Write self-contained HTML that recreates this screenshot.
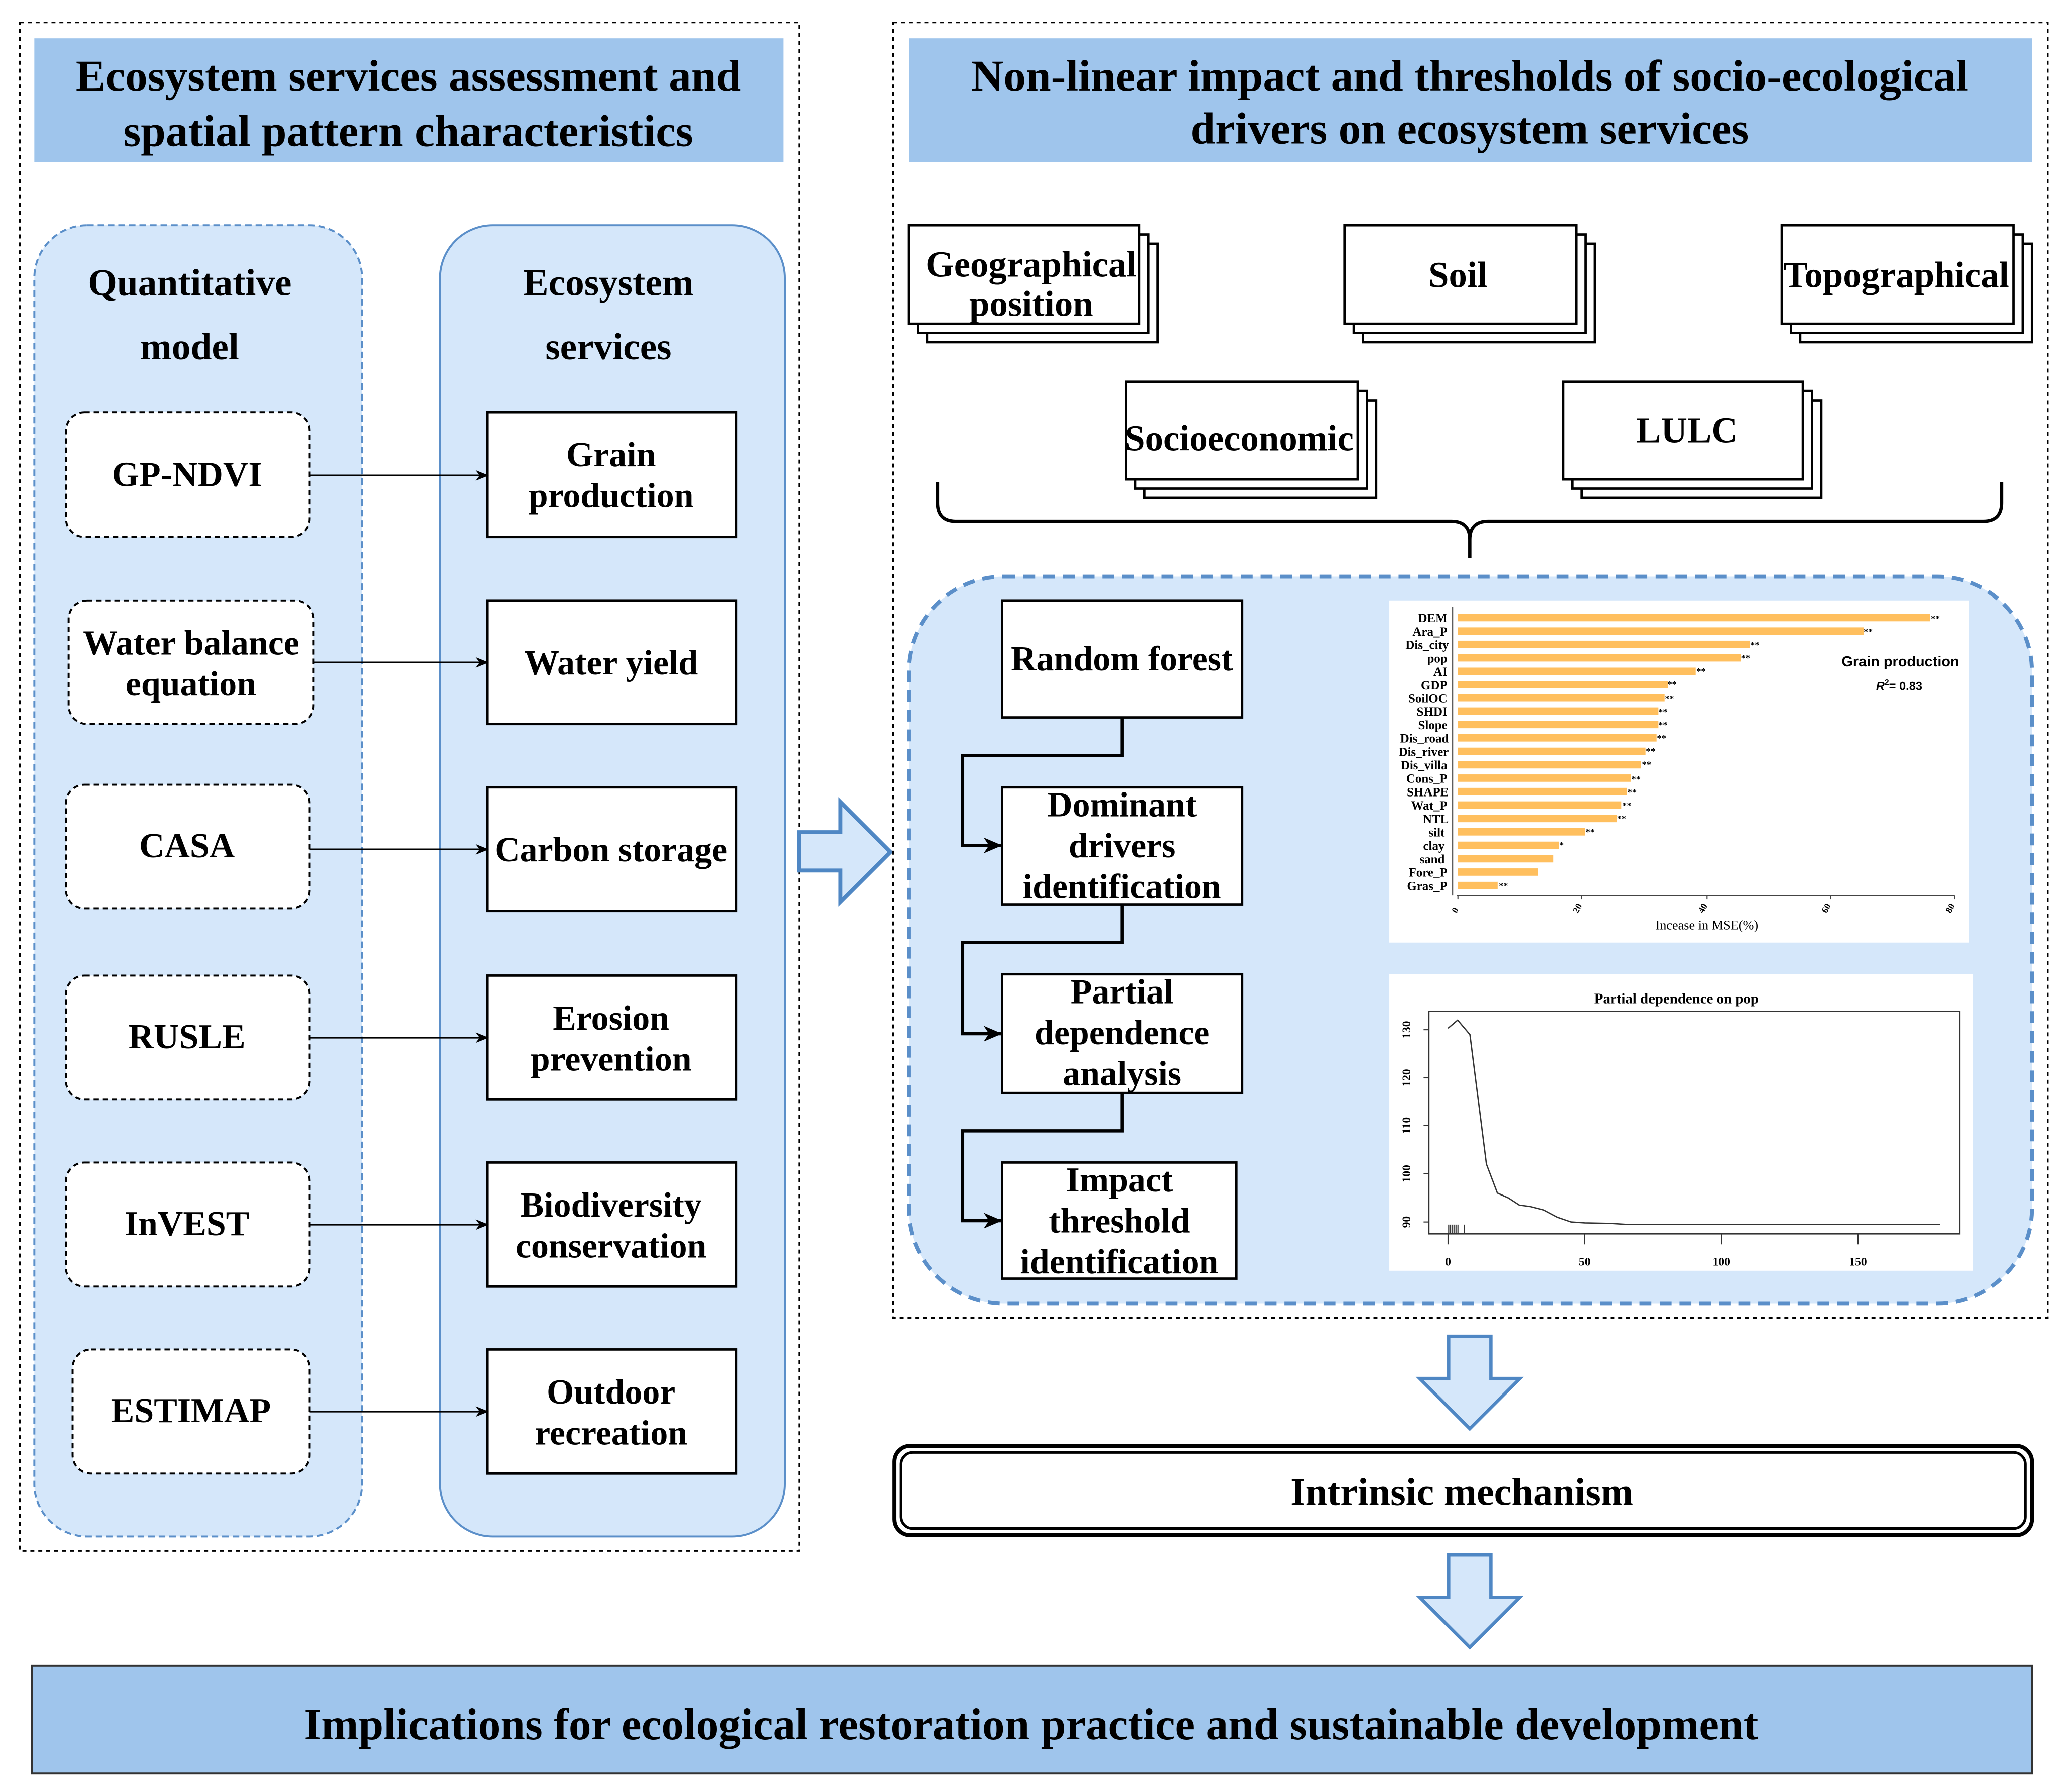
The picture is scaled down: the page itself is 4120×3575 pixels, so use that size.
<!DOCTYPE html>
<html><head><meta charset="utf-8"><style>
html,body{margin:0;padding:0;background:#fff;}
svg{display:block;}
text{font-family:"Liberation Serif",serif;font-weight:bold;fill:#000;}
</style></head><body>
<svg width="4120" height="3575" viewBox="0 0 1568 1361" preserveAspectRatio="none" xmlns="http://www.w3.org/2000/svg">
<defs>
<marker id="ah" markerWidth="10" markerHeight="10" refX="9" refY="5" orient="auto" markerUnits="userSpaceOnUse">
<path d="M0,1 L10,5 L0,9 L3,5 Z" fill="#000"/></marker>
<marker id="ah2" markerWidth="14" markerHeight="14" refX="13" refY="7" orient="auto" markerUnits="userSpaceOnUse">
<path d="M0,1 L14,7 L0,13 L4,7 Z" fill="#000"/></marker>
</defs>
<rect width="1568" height="1361" fill="#fff"/>

<!-- LEFT FRAME -->
<rect x="15" y="17" width="592" height="1161" fill="none" stroke="#000" stroke-width="1.2" stroke-dasharray="3,3"/>
<rect x="26" y="29" width="569" height="94" fill="#9fc5ec"/>
<text x="310" y="69" font-size="34" text-anchor="middle">Ecosystem services assessment and</text>
<text x="310" y="111" font-size="34" text-anchor="middle">spatial pattern characteristics</text>

<rect x="26" y="171" width="249" height="996" rx="40" fill="#d5e7fa" stroke="#5b8fc9" stroke-width="1.5" stroke-dasharray="5,3"/>
<rect x="334" y="171" width="262" height="996" rx="40" fill="#d5e7fa" stroke="#5b8fc9" stroke-width="1.5"/>
<text x="144" y="224" font-size="28.7" text-anchor="middle">Quantitative</text>
<text x="144" y="273" font-size="28.7" text-anchor="middle">model</text>
<text x="462" y="224" font-size="28.7" text-anchor="middle">Ecosystem</text>
<text x="462" y="273" font-size="28.7" text-anchor="middle">services</text>

<g fill="#fff" stroke="#000" stroke-width="1.5" stroke-dasharray="4,3">
<rect x="50" y="313" width="185" height="95" rx="14"/>
<rect x="52" y="456" width="186" height="94" rx="14"/>
<rect x="50" y="596" width="185" height="94" rx="14"/>
<rect x="50" y="741" width="185" height="94" rx="14"/>
<rect x="50" y="883" width="185" height="94" rx="14"/>
<rect x="55" y="1025" width="180" height="94" rx="14"/>
</g>
<g fill="#fff" stroke="#000" stroke-width="1.8">
<rect x="370" y="313" width="189" height="95"/>
<rect x="370" y="456" width="189" height="94"/>
<rect x="370" y="598" width="189" height="94"/>
<rect x="370" y="741" width="189" height="94"/>
<rect x="370" y="883" width="189" height="94"/>
<rect x="370" y="1025" width="189" height="94"/>
</g>
<g font-size="26.6" text-anchor="middle">
<text x="142" y="369">GP-NDVI</text>
<text x="145" y="497">Water balance</text>
<text x="145" y="528">equation</text>
<text x="142" y="651">CASA</text>
<text x="142" y="796">RUSLE</text>
<text x="142" y="938">InVEST</text>
<text x="145" y="1080">ESTIMAP</text>
<text x="464" y="354">Grain</text>
<text x="464" y="385">production</text>
<text x="464" y="512">Water yield</text>
<text x="464" y="654">Carbon storage</text>
<text x="464" y="782">Erosion</text>
<text x="464" y="813">prevention</text>
<text x="464" y="924">Biodiversity</text>
<text x="464" y="955">conservation</text>
<text x="464" y="1066">Outdoor</text>
<text x="464" y="1097">recreation</text>
</g>
<g stroke="#000" stroke-width="1.3" marker-end="url(#ah)">
<line x1="235" y1="361" x2="370" y2="361"/>
<line x1="238" y1="503" x2="370" y2="503"/>
<line x1="235" y1="645" x2="370" y2="645"/>
<line x1="235" y1="788" x2="370" y2="788"/>
<line x1="235" y1="930" x2="370" y2="930"/>
<line x1="235" y1="1072" x2="370" y2="1072"/>
</g>

<!-- middle arrow -->
<path d="M607,632 L638,632 L638,609 L676,647 L638,685 L638,661 L607,661 Z" fill="#d5e7fa" stroke="#4f87c4" stroke-width="3"/>

<!-- RIGHT FRAME -->
<rect x="678" y="17" width="877" height="984" fill="none" stroke="#000" stroke-width="1.2" stroke-dasharray="3,3"/>
<rect x="690" y="29" width="853" height="94" fill="#9fc5ec"/>
<text x="1116" y="69" font-size="34" text-anchor="middle">Non-linear impact and thresholds of socio-ecological</text>
<text x="1116" y="109" font-size="34" text-anchor="middle">drivers on ecosystem services</text>

<g fill="#fff" stroke="#000" stroke-width="1.8">
<rect x="704" y="185" width="175" height="75"/><rect x="697" y="178" width="175" height="75"/><rect x="690" y="171" width="175" height="75"/>
<rect x="1035" y="185" width="176" height="75"/><rect x="1028" y="178" width="176" height="75"/><rect x="1021" y="171" width="176" height="75"/>
<rect x="1367" y="185" width="176" height="75"/><rect x="1360" y="178" width="176" height="75"/><rect x="1353" y="171" width="176" height="75"/>
<rect x="869" y="304" width="176" height="74"/><rect x="862" y="297" width="176" height="74"/><rect x="855" y="290" width="176" height="74"/>
<rect x="1201" y="304" width="182" height="74"/><rect x="1194" y="297" width="182" height="74"/><rect x="1187" y="290" width="182" height="74"/>
</g>
<g font-size="27.7" text-anchor="middle">
<text x="783" y="210">Geographical</text>
<text x="783" y="240">position</text>
<text x="1107" y="218">Soil</text>
<text x="1440" y="218">Topographical</text>
<text x="941" y="342">Socioeconomic</text>
<text x="1281" y="336">LULC</text>
</g>
<!-- brace -->
<path d="M712,366 L712,382 Q712,396 726,396 L1102,396 Q1116,396 1116,410 L1116,424 M1116,410 Q1116,396 1130,396 L1506,396 Q1520,396 1520,382 L1520,366" fill="none" stroke="#000" stroke-width="2.5"/>

<!-- blue dashed panel -->
<rect x="690" y="438" width="853" height="552" rx="72" fill="#d5e7fa" stroke="#5b8fc9" stroke-width="3" stroke-dasharray="9,6"/>

<g fill="#fff" stroke="#000" stroke-width="1.8">
<rect x="761" y="456" width="182" height="89"/>
<rect x="761" y="598" width="182" height="89"/>
<rect x="761" y="740" width="182" height="90"/>
<rect x="761" y="883" width="178" height="88"/>
</g>
<g font-size="26.6" text-anchor="middle">
<text x="852" y="509">Random forest</text>
<text x="852" y="620">Dominant</text>
<text x="852" y="651">drivers</text>
<text x="852" y="682">identification</text>
<text x="852" y="762">Partial</text>
<text x="852" y="793">dependence</text>
<text x="852" y="824">analysis</text>
<text x="850" y="905">Impact</text>
<text x="850" y="936">threshold</text>
<text x="850" y="967">identification</text>
</g>
<g fill="none" stroke="#000" stroke-width="2.5" marker-end="url(#ah2)">
<path d="M852,545 L852,574 L731,574 L731,642 L760,642"/>
<path d="M852,687 L852,716 L731,716 L731,785 L760,785"/>
<path d="M852,830 L852,859 L731,859 L731,927 L760,927"/>
</g>

<!-- bar chart -->
<rect x="1055" y="456" width="440" height="260" fill="#fff"/>
<line x1="1103" y1="461" x2="1103" y2="680" stroke="#444" stroke-width="0.8"/>
<line x1="1106" y1="680" x2="1484" y2="680" stroke="#444" stroke-width="0.8"/>
<g stroke="#444" stroke-width="0.8">
<line x1="1107" y1="680" x2="1107" y2="683"/><line x1="1201" y1="680" x2="1201" y2="683"/><line x1="1296" y1="680" x2="1296" y2="683"/><line x1="1390" y1="680" x2="1390" y2="683"/><line x1="1484" y1="680" x2="1484" y2="683"/>
</g>
<g fill="#ffbf5e">
<rect x="1107" y="466.2" width="358.4" height="5.6"/>
<rect x="1107" y="476.4" width="308.0" height="5.6"/>
<rect x="1107" y="486.5" width="221.8" height="5.6"/>
<rect x="1107" y="496.7" width="214.8" height="5.6"/>
<rect x="1107" y="506.9" width="180.4" height="5.6"/>
<rect x="1107" y="517.1" width="159.2" height="5.6"/>
<rect x="1107" y="527.2" width="156.8" height="5.6"/>
<rect x="1107" y="537.4" width="152.1" height="5.6"/>
<rect x="1107" y="547.6" width="152.1" height="5.6"/>
<rect x="1107" y="557.7" width="150.7" height="5.6"/>
<rect x="1107" y="567.9" width="142.7" height="5.6"/>
<rect x="1107" y="578.1" width="139.4" height="5.6"/>
<rect x="1107" y="588.2" width="131.4" height="5.6"/>
<rect x="1107" y="598.4" width="128.6" height="5.6"/>
<rect x="1107" y="608.6" width="124.3" height="5.6"/>
<rect x="1107" y="618.8" width="121.0" height="5.6"/>
<rect x="1107" y="628.9" width="96.6" height="5.6"/>
<rect x="1107" y="639.1" width="76.8" height="5.6"/>
<rect x="1107" y="649.3" width="72.5" height="5.6"/>
<rect x="1107" y="659.4" width="60.8" height="5.6"/>
<rect x="1107" y="669.6" width="30.1" height="5.6"/>
</g>
<g font-size="9.5" text-anchor="end" style="font-weight:normal">
<text x="1099" y="472.5">DEM</text>
<text x="1099" y="482.7">Ara_P</text>
<text x="1100" y="492.8">Dis_city</text>
<text x="1099" y="503">pop</text>
<text x="1099" y="513.2">AI</text>
<text x="1099" y="523.4">GDP</text>
<text x="1099" y="533.5">SoilOC</text>
<text x="1099" y="543.7">SHDI</text>
<text x="1099" y="553.9">Slope</text>
<text x="1100" y="564">Dis_road</text>
<text x="1100" y="574.2">Dis_river</text>
<text x="1099" y="584.4">Dis_villa</text>
<text x="1099" y="594.5">Cons_P</text>
<text x="1100" y="604.7">SHAPE</text>
<text x="1099" y="614.9">Wat_P</text>
<text x="1100" y="625.1">NTL</text>
<text x="1097" y="635.2">silt</text>
<text x="1097" y="645.4">clay</text>
<text x="1097" y="655.6">sand</text>
<text x="1099" y="665.7">Fore_P</text>
<text x="1099" y="675.9">Gras_P</text>
</g>
<g font-size="7" style="font-weight:normal">
<text x="1466" y="472">**</text><text x="1415" y="482">**</text><text x="1329" y="492">**</text><text x="1322" y="502">**</text>
<text x="1288" y="512">**</text><text x="1266" y="522">**</text><text x="1264" y="533">**</text><text x="1259" y="543">**</text>
<text x="1259" y="553">**</text><text x="1258" y="563">**</text><text x="1250" y="573">**</text><text x="1247" y="583">**</text>
<text x="1239" y="594">**</text><text x="1236" y="604">**</text><text x="1232" y="614">**</text><text x="1228" y="624">**</text>
<text x="1204" y="634">**</text><text x="1184" y="644">*</text><text x="1138" y="675">**</text>
</g>
<g font-size="7" style="font-weight:normal" fill="#333">
<text transform="translate(1106,694) rotate(-60)">0</text>
<text transform="translate(1198,694) rotate(-60)">20</text>
<text transform="translate(1293,694) rotate(-60)">40</text>
<text transform="translate(1387,694) rotate(-60)">60</text>
<text transform="translate(1481,694) rotate(-60)">80</text>
</g>
<text x="1296" y="706" font-size="10" text-anchor="middle" style="font-weight:normal">Incease in MSE(%)</text>
<text x="1443" y="506" font-size="11" text-anchor="middle" style="font-family:'Liberation Sans',sans-serif">Grain production</text>
<text x="1442" y="524" font-size="9" text-anchor="middle" style="font-family:'Liberation Sans',sans-serif"><tspan font-style="italic">R</tspan><tspan dy="-4" font-size="6">2</tspan><tspan dy="4">= 0.83</tspan></text>

<!-- PD plot -->
<rect x="1055" y="740" width="443" height="225" fill="#fff"/>
<text x="1273" y="762" font-size="11" text-anchor="middle">Partial dependence on pop</text>
<rect x="1085" y="768" width="403" height="169" fill="none" stroke="#333" stroke-width="1"/>
<polyline points="1099.5,780.9 1106.8,774.7 1116.1,785.7 1128.6,884.2 1136.9,906.1 1145.2,909.8 1153.5,915.2 1161.8,916.3 1172.1,918.9 1182.5,924.4 1192.9,928 1203.3,928.7 1224,929.1 1234.4,929.8 1473,929.8" fill="none" stroke="#333" stroke-width="1"/>
<g stroke="#333" stroke-width="0.8">
<line x1="1085" y1="782" x2="1081" y2="782"/><line x1="1085" y1="818.5" x2="1081" y2="818.5"/><line x1="1085" y1="855" x2="1081" y2="855"/><line x1="1085" y1="891.5" x2="1081" y2="891.5"/><line x1="1085" y1="928" x2="1081" y2="928"/>
<line x1="1099.5" y1="937" x2="1099.5" y2="945"/><line x1="1203.3" y1="937" x2="1203.3" y2="945"/><line x1="1307" y1="937" x2="1307" y2="945"/><line x1="1410.8" y1="937" x2="1410.8" y2="945"/>
<line x1="1100" y1="930" x2="1100" y2="937"/><line x1="1101" y1="930" x2="1101" y2="937"/><line x1="1102.5" y1="930" x2="1102.5" y2="937"/><line x1="1104" y1="930" x2="1104" y2="937"/><line x1="1105.5" y1="930" x2="1105.5" y2="937"/><line x1="1107" y1="930" x2="1107" y2="937"/><line x1="1112" y1="930" x2="1112" y2="937"/>
</g>
<g font-size="9" style="font-family:'Liberation Sans',sans-serif;font-weight:normal" fill="#333" text-anchor="middle">
<text transform="translate(1071,782) rotate(-90)">130</text>
<text transform="translate(1071,818.5) rotate(-90)">120</text>
<text transform="translate(1071,855) rotate(-90)">110</text>
<text transform="translate(1071,891.5) rotate(-90)">100</text>
<text transform="translate(1071,928) rotate(-90)">90</text>
<text x="1099.5" y="961">0</text><text x="1203.3" y="961">50</text><text x="1307" y="961">100</text><text x="1410.8" y="961">150</text>
</g>

<!-- down arrows -->
<path d="M1100,1015 L1132,1015 L1132,1047 L1154,1047 L1116,1085 L1078,1047 L1100,1047 Z" fill="#d5e7fa" stroke="#4f87c4" stroke-width="2.5"/>
<path d="M1100,1181 L1132,1181 L1132,1213 L1154,1213 L1116,1251 L1078,1213 L1100,1213 Z" fill="#d5e7fa" stroke="#4f87c4" stroke-width="2.5"/>

<!-- Intrinsic mechanism -->
<rect x="679" y="1098" width="864" height="68" rx="12" fill="#fff" stroke="#000" stroke-width="3"/>
<rect x="684" y="1103" width="854" height="58" rx="9" fill="#fff" stroke="#000" stroke-width="2"/>
<text x="1110" y="1143" font-size="29.8" text-anchor="middle">Intrinsic mechanism</text>

<!-- bottom -->
<rect x="24" y="1265" width="1519" height="82" fill="#9fc5ec" stroke="#333" stroke-width="1.5"/>
<text x="783" y="1321" font-size="34" text-anchor="middle">Implications for ecological restoration practice and sustainable development</text>
</svg>
</body></html>
